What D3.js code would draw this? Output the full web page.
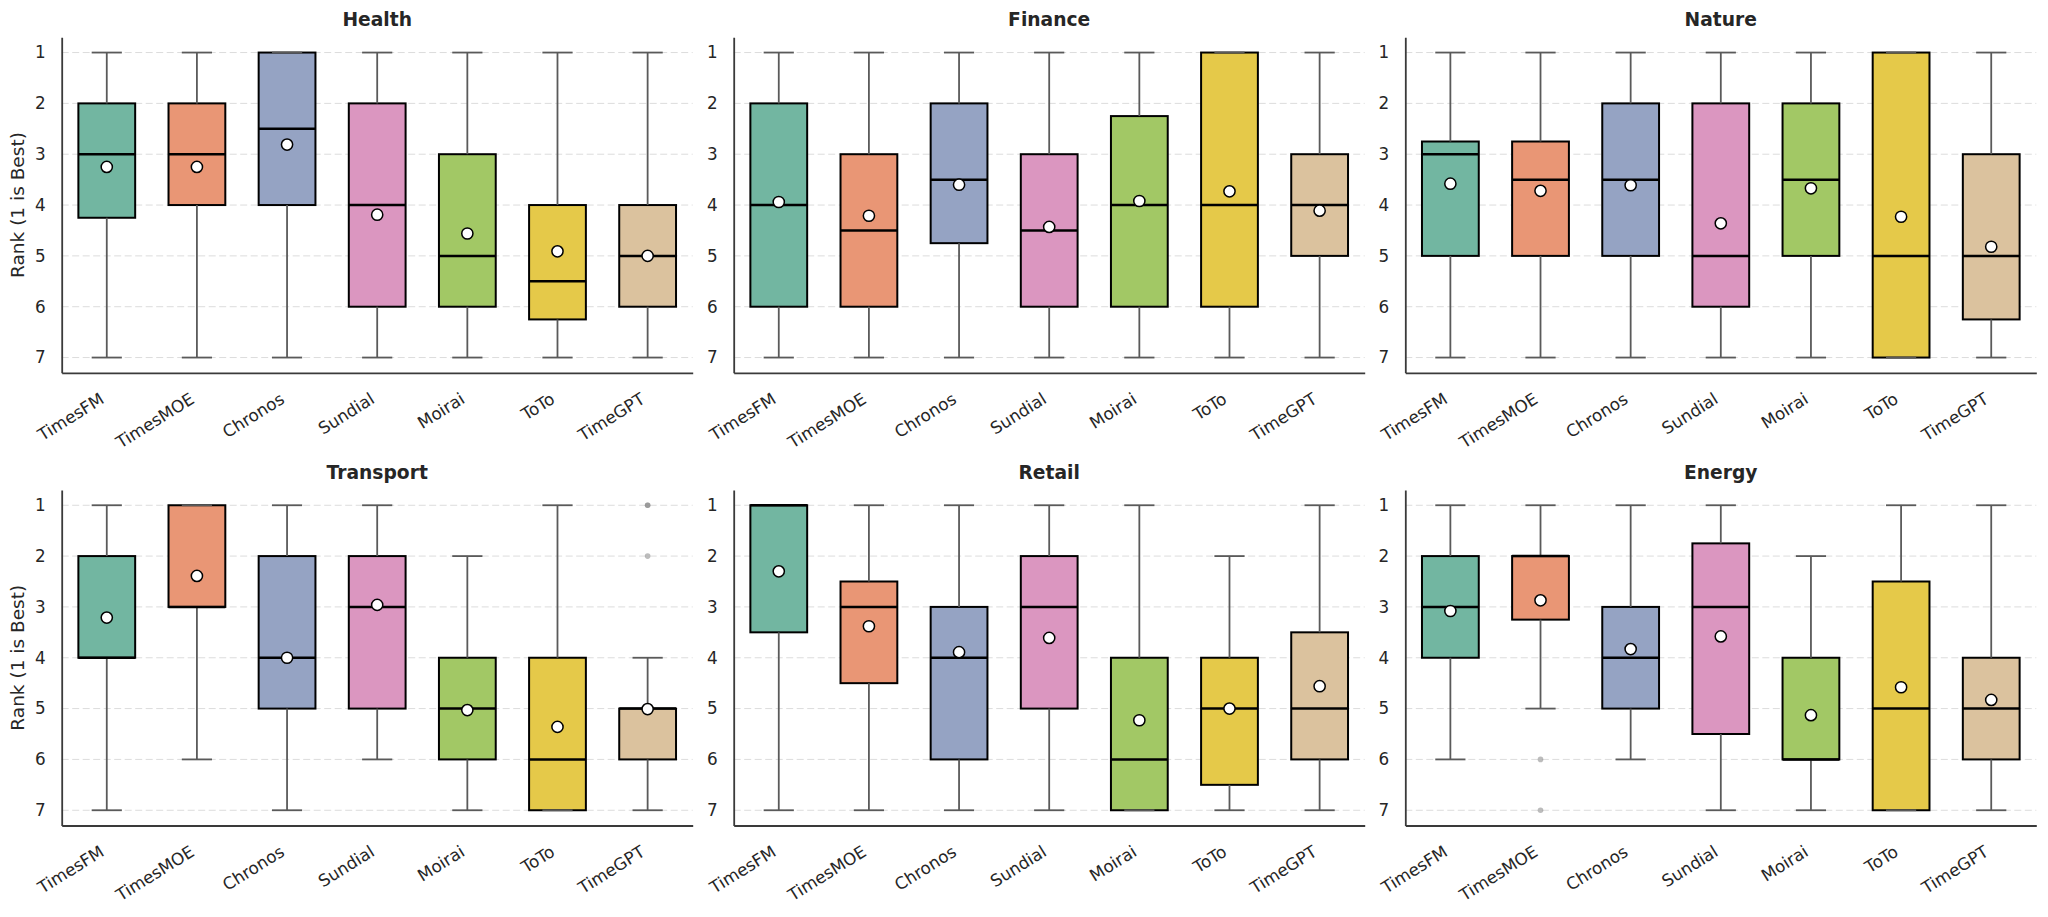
<!DOCTYPE html>
<html>
<head>
<meta charset="utf-8">
<script src="https://cdn.jsdelivr.net/npm/d3@7"></script>
<style>
  body { margin: 0; background: #fff; }
  svg { display: block; font-family: "DejaVu Sans", sans-serif; }
</style>
</head>
<body>
<svg id="chart" width="2048" height="917"></svg>
<script>
var domains = ["Health", "Finance", "Nature", "Transport", "Retail", "Energy"];
var models = ["TimesFM", "TimesMOE", "Chronos", "Sundial", "Moirai", "ToTo", "TimeGPT"];
var palette = ["#66c2a5", "#fc8d62", "#8da0cb", "#e78ac3", "#a6d854", "#ffd92f", "#e5c494"];
var rankTicks = [1, 2, 3, 4, 5, 6, 7];

// one row per domain, one value per model
var whiskerLow = [
  [1, 1, 1, 1, 1, 1, 1],
  [1, 1, 1, 1, 1, 1, 1],
  [1, 1, 1, 1, 1, 1, 1],
  [1, 1, 1, 1, 2, 1, 4],
  [1, 1, 1, 1, 1, 2, 1],
  [1, 1, 1, 1, 2, 1, 1]
];
var q1 = [
  [2, 2, 1, 2, 3, 4, 4],
  [2, 3, 2, 3, 2.25, 1, 3],
  [2.75, 2.75, 2, 2, 2, 1, 3],
  [2, 1, 2, 2, 4, 4, 5],
  [1, 2.5, 3, 2, 4, 4, 3.5],
  [2, 2, 3, 1.75, 4, 2.5, 4]
];
var median = [
  [3, 3, 2.5, 4, 5, 5.5, 5],
  [4, 4.5, 3.5, 4.5, 4, 4, 4],
  [3, 3.5, 3.5, 5, 3.5, 5, 5],
  [4, 3, 4, 3, 5, 6, 5],
  [1, 3, 4, 3, 6, 5, 5],
  [3, 2, 4, 3, 6, 5, 5]
];
var q3 = [
  [4.25, 4, 4, 6, 6, 6.25, 6],
  [6, 6, 4.75, 6, 6, 6, 5],
  [5, 5, 5, 6, 5, 7, 6.25],
  [4, 3, 5, 5, 6, 7, 6],
  [3.5, 4.5, 6, 5, 7, 6.5, 6],
  [4, 3.25, 5, 5.5, 6, 7, 6]
];
var whiskerHigh = [
  [7, 7, 7, 7, 7, 7, 7],
  [7, 7, 7, 7, 7, 7, 7],
  [7, 7, 7, 7, 7, 7, 7],
  [7, 6, 7, 6, 7, 7, 7],
  [7, 7, 7, 7, 7, 7, 7],
  [6, 5, 6, 7, 7, 7, 7]
];
var means = [
  [3.25, 3.25, 2.81, 4.19, 4.56, 4.91, 5.0],
  [3.94, 4.21, 3.6, 4.43, 3.92, 3.73, 4.11],
  [3.58, 3.72, 3.61, 4.36, 3.67, 4.23, 4.82],
  [3.21, 2.39, 4.0, 2.96, 5.03, 5.36, 5.01],
  [2.3, 3.38, 3.89, 3.61, 5.23, 5.0, 4.56],
  [3.08, 2.87, 3.83, 3.58, 5.13, 4.58, 4.83]
];
var outliers = [
  [[], [], [], [], [], [], []],
  [[], [], [], [], [], [], []],
  [[], [], [], [], [], [], []],
  [[], [], [], [], [], [], [1, 1, 2]],
  [[], [], [], [], [], [], []],
  [[], [6, 7], [], [], [], [], []]
];

var svg = d3.select("#chart"),
  panelW = 631,
  panelH = 335.5,
  lefts = [61.7, 733.7, 1405.3],
  tops = [37.3, 490],
  textColor = "#262626";

// seaborn-like desaturation of the palette
function desat(c) {
  var h = d3.hsl(c);
  h.s *= 0.75;
  return h.formatHex();
}

domains.forEach(function (name, di) {
  var left = lefts[di % 3],
    top = tops[Math.floor(di / 3)],
    g = svg.append("g").attr("transform", "translate(" + left + "," + top + ")"),
    x = d3.scaleBand().domain(models).range([0, panelW]),
    y = d3.scaleLinear().domain([0.7, 7.3]).range([0, panelH]),
    bw = x.bandwidth() * 0.63,
    capW = x.bandwidth() * 0.335,
    cx = function (m) { return x(m) + x.bandwidth() / 2; };

  // grid
  g.selectAll(".grid").data(rankTicks).enter().append("line")
    .attr("x1", 0).attr("x2", panelW)
    .attr("y1", y).attr("y2", y)
    .attr("stroke", "#dcdcdc").attr("stroke-width", 1)
    .attr("stroke-dasharray", "7,3.5");

  // axes
  var ya = g.append("g").call(d3.axisLeft(y).tickValues(rankTicks).tickFormat(d3.format("d"))
    .tickSize(0).tickSizeOuter(0).tickPadding(16));
  var xa = g.append("g").attr("transform", "translate(0," + panelH + ")")
    .call(d3.axisBottom(x).tickSize(0).tickSizeOuter(0));
  [ya, xa].forEach(function (a) {
    a.select(".domain").attr("stroke", "#3a3a3a").attr("stroke-width", 1.8);
    a.selectAll("text").attr("font-size", 16.8).attr("fill", textColor)
      .attr("font-family", "DejaVu Sans");
  });
  xa.selectAll("text")
    .attr("x", 0).attr("y", 0).attr("dy", 0)
    .attr("text-anchor", "end")
    .attr("transform", "translate(-1.5,29.3) rotate(-32)");

  var boxes = g.selectAll(".box").data(models).enter().append("g");

  boxes.append("rect")
    .attr("x", function (m) { return cx(m) - bw / 2; })
    .attr("width", bw)
    .attr("y", function (m, i) { return y(q1[di][i]); })
    .attr("height", function (m, i) { return y(q3[di][i]) - y(q1[di][i]); })
    .attr("fill", function (m, i) { return desat(palette[i]); })
    .attr("stroke", "#000").attr("stroke-width", 2);

  // whiskers
  boxes.append("line")
    .attr("x1", cx).attr("x2", cx)
    .attr("y1", function (m, i) { return y(whiskerLow[di][i]); })
    .attr("y2", function (m, i) { return y(q1[di][i]); });
  boxes.append("line")
    .attr("x1", cx).attr("x2", cx)
    .attr("y1", function (m, i) { return y(q3[di][i]); })
    .attr("y2", function (m, i) { return y(whiskerHigh[di][i]); });
  // caps
  boxes.append("line")
    .attr("x1", function (m) { return cx(m) - capW / 2; })
    .attr("x2", function (m) { return cx(m) + capW / 2; })
    .attr("y1", function (m, i) { return y(whiskerLow[di][i]); })
    .attr("y2", function (m, i) { return y(whiskerLow[di][i]); });
  boxes.append("line")
    .attr("x1", function (m) { return cx(m) - capW / 2; })
    .attr("x2", function (m) { return cx(m) + capW / 2; })
    .attr("y1", function (m, i) { return y(whiskerHigh[di][i]); })
    .attr("y2", function (m, i) { return y(whiskerHigh[di][i]); });
  boxes.selectAll("line").attr("stroke", "#5a5a5a").attr("stroke-width", 1.8);

  // median
  boxes.append("line")
    .attr("x1", function (m) { return cx(m) - bw / 2; })
    .attr("x2", function (m) { return cx(m) + bw / 2; })
    .attr("y1", function (m, i) { return y(median[di][i]); })
    .attr("y2", function (m, i) { return y(median[di][i]); })
    .attr("stroke", "#000").attr("stroke-width", 2.5);

  // fliers
  boxes.each(function (m, i) {
    d3.select(this).selectAll(".flier").data(outliers[di][i]).enter().append("circle")
      .attr("cx", cx(m)).attr("cy", y)
      .attr("r", 2.8)
      .attr("fill", "#7a7a7a").attr("fill-opacity", 0.5);
  });

  // means
  boxes.append("circle")
    .attr("cx", cx)
    .attr("cy", function (m, i) { return y(means[di][i]); })
    .attr("r", 5.6)
    .attr("fill", "#fff").attr("stroke", "#000").attr("stroke-width", 1.5);

  // title
  g.append("text")
    .attr("x", panelW / 2).attr("y", -11.5)
    .attr("text-anchor", "middle")
    .attr("font-size", 18.7).attr("font-weight", "bold")
    .attr("fill", textColor)
    .text(name);

  if (di % 3 === 0) {
    g.append("text")
      .attr("transform", "translate(" + (18 - left) + "," + (panelH / 2) + ") rotate(-90)")
      .attr("text-anchor", "middle")
      .attr("dy", "0.35em")
      .attr("font-size", 18.5)
      .attr("fill", textColor)
      .text("Rank (1 is Best)");
  }
});
</script>
</body>
</html>
